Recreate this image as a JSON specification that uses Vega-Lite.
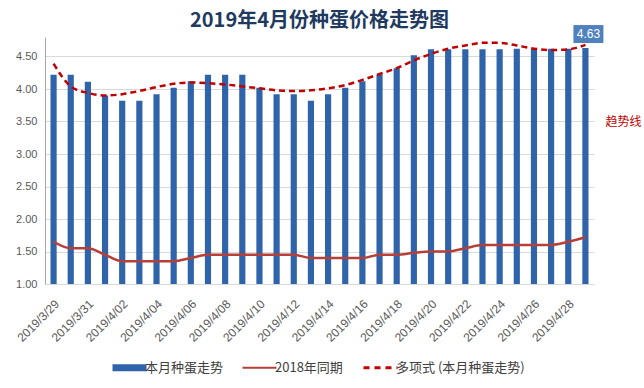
{
  "$schema": "https://vega.github.io/schema/vega-lite/v6.json",
  "width": 549,
  "height": 247,
  "autosize": "none",
  "padding": {"left": 45, "top": 37, "right": 50, "bottom": 104},
  "background": "white",
  "title": {
    "text": "2019年4月份种蛋价格走势图",
    "font": "Noto Sans CJK SC",
    "fontSize": 20,
    "fontWeight": "bold",
    "color": "#1f3a5f",
    "anchor": "middle",
    "offset": -6
  },
  "data": {
    "values": [
      {"date": "2019/3/29", "price": 4.22, "y2018": 1.65, "trend": 4.39},
      {"date": "2019/3/30", "price": 4.22, "y2018": 1.55, "trend": 4.04},
      {"date": "2019/3/31", "price": 4.11, "y2018": 1.55, "trend": 3.94},
      {"date": "2019/4/01", "price": 3.90, "y2018": 1.45, "trend": 3.90},
      {"date": "2019/4/02", "price": 3.82, "y2018": 1.35, "trend": 3.92},
      {"date": "2019/4/03", "price": 3.82, "y2018": 1.35, "trend": 3.97},
      {"date": "2019/4/04", "price": 3.92, "y2018": 1.35, "trend": 4.03},
      {"date": "2019/4/05", "price": 4.02, "y2018": 1.35, "trend": 4.08},
      {"date": "2019/4/06", "price": 4.12, "y2018": 1.40, "trend": 4.10},
      {"date": "2019/4/07", "price": 4.22, "y2018": 1.45, "trend": 4.09},
      {"date": "2019/4/08", "price": 4.22, "y2018": 1.45, "trend": 4.07},
      {"date": "2019/4/09", "price": 4.22, "y2018": 1.45, "trend": 4.04},
      {"date": "2019/4/10", "price": 4.02, "y2018": 1.45, "trend": 4.01},
      {"date": "2019/4/11", "price": 3.92, "y2018": 1.45, "trend": 3.98},
      {"date": "2019/4/12", "price": 3.92, "y2018": 1.45, "trend": 3.97},
      {"date": "2019/4/13", "price": 3.82, "y2018": 1.40, "trend": 3.98},
      {"date": "2019/4/14", "price": 3.92, "y2018": 1.40, "trend": 4.01},
      {"date": "2019/4/15", "price": 4.02, "y2018": 1.40, "trend": 4.06},
      {"date": "2019/4/16", "price": 4.12, "y2018": 1.40, "trend": 4.14},
      {"date": "2019/4/17", "price": 4.22, "y2018": 1.45, "trend": 4.23},
      {"date": "2019/4/18", "price": 4.32, "y2018": 1.45, "trend": 4.32},
      {"date": "2019/4/19", "price": 4.52, "y2018": 1.48, "trend": 4.44},
      {"date": "2019/4/20", "price": 4.61, "y2018": 1.50, "trend": 4.54},
      {"date": "2019/4/21", "price": 4.61, "y2018": 1.50, "trend": 4.62},
      {"date": "2019/4/22", "price": 4.61, "y2018": 1.55, "trend": 4.67},
      {"date": "2019/4/23", "price": 4.61, "y2018": 1.60, "trend": 4.71},
      {"date": "2019/4/24", "price": 4.61, "y2018": 1.60, "trend": 4.71},
      {"date": "2019/4/25", "price": 4.62, "y2018": 1.60, "trend": 4.67},
      {"date": "2019/4/26", "price": 4.62, "y2018": 1.60, "trend": 4.62},
      {"date": "2019/4/27", "price": 4.62, "y2018": 1.60, "trend": 4.60},
      {"date": "2019/4/28", "price": 4.62, "y2018": 1.65, "trend": 4.61},
      {"date": "2019/4/29", "price": 4.63, "y2018": 1.72, "trend": 4.68}
    ]
  },
  "encoding": {
    "x": {
      "field": "date",
      "type": "ordinal",
      "sort": null,
      "title": null,
      "scale": {"paddingInner": 0.64, "paddingOuter": 0.32},
      "axis": {
        "values": ["2019/3/29", "2019/3/31", "2019/4/02", "2019/4/04", "2019/4/06", "2019/4/08", "2019/4/10", "2019/4/12", "2019/4/14", "2019/4/16", "2019/4/18", "2019/4/20", "2019/4/22", "2019/4/24", "2019/4/26", "2019/4/28"],
        "labelAngle": -45,
        "labelFont": "Liberation Sans",
        "labelFontSize": 12,
        "labelColor": "#595959",
        "ticks": false,
        "domainColor": "#d9d9d9",
        "labelPadding": 14
      }
    }
  },
  "layer": [
    {
      "mark": {"type": "bar"},
      "encoding": {
        "y": {
          "field": "price",
          "type": "quantitative",
          "title": null,
          "scale": {"domain": [1, 4.8], "nice": false, "zero": false},
          "axis": {
            "values": [1, 1.5, 2, 2.5, 3, 3.5, 4, 4.5],
            "tickCount": 8,
            "format": ".2f",
            "labelFont": "Liberation Sans",
            "labelFontSize": 11,
            "labelColor": "#595959",
            "ticks": false,
            "domain": true,
            "domainColor": "#a6a6a6",
            "gridColor": "#d9d9d9",
            "labelPadding": 8,
            "labelOverlap": false
          }
        },
        "y2": {"datum": 1},
        "color": {
          "datum": "本月种蛋走势",
          "scale": {
            "domain": ["本月种蛋走势", "2018年同期", "多项式 (本月种蛋走势)"],
            "range": ["#2f64aa", "#b5403a", "#c00000"]
          },
          "legend": {
            "encode": {
              "symbols": {
                "update": {
                  "shape": {"signal": "datum.value === '本月种蛋走势' ? 'M-1,-0.2H1V0.2H-1Z' : 'M-1,0H1'"},
                  "fill": {"signal": "datum.value === '本月种蛋走势' ? '#2f64aa' : 'transparent'"},
                  "fillOpacity": {"value": 1},
                  "strokeWidth": {"signal": "datum.value === '本月种蛋走势' ? 0 : (datum.value === '2018年同期' ? 2 : 3)"},
                  "strokeDash": {"signal": "datum.value === '多项式 (本月种蛋走势)' ? [6, 5] : [1, 0]"}
                }
              }
            }
          }
        }
      }
    },
    {
      "mark": {"type": "line", "strokeWidth": 2.5, "interpolate": "monotone"},
      "encoding": {
        "y": {
          "field": "y2018",
          "type": "quantitative",
          "title": null,
          "axis": {
            "values": [1, 1.5, 2, 2.5, 3, 3.5, 4, 4.5],
            "tickCount": 8,
            "format": ".2f",
            "labelFont": "Liberation Sans",
            "labelFontSize": 11,
            "labelColor": "#595959",
            "ticks": false,
            "domain": true,
            "domainColor": "#a6a6a6",
            "gridColor": "#d9d9d9",
            "labelPadding": 8,
            "labelOverlap": false
          }
        },
        "color": {"datum": "2018年同期"}
      }
    },
    {
      "mark": {"type": "line", "strokeWidth": 2.5, "strokeDash": [6, 4], "interpolate": "monotone"},
      "encoding": {
        "y": {
          "field": "trend",
          "type": "quantitative",
          "title": null,
          "axis": {
            "values": [1, 1.5, 2, 2.5, 3, 3.5, 4, 4.5],
            "tickCount": 8,
            "format": ".2f",
            "labelFont": "Liberation Sans",
            "labelFontSize": 11,
            "labelColor": "#595959",
            "ticks": false,
            "domain": true,
            "domainColor": "#a6a6a6",
            "gridColor": "#d9d9d9",
            "labelPadding": 8,
            "labelOverlap": false
          }
        },
        "color": {"datum": "多项式 (本月种蛋走势)"}
      }
    },
    {
      "transform": [{"filter": "datum.date === '2019/4/29'"}],
      "mark": {"type": "point", "shape": "M-1,-0.6H1V0.6H-1Z", "size": 900, "filled": true, "opacity": 1, "color": "#4f81bd", "yOffset": -14, "xOffset": 3},
      "encoding": {
        "y": {
          "field": "price",
          "type": "quantitative",
          "title": null,
          "axis": {
            "values": [1, 1.5, 2, 2.5, 3, 3.5, 4, 4.5],
            "tickCount": 8,
            "format": ".2f",
            "labelFont": "Liberation Sans",
            "labelFontSize": 11,
            "labelColor": "#595959",
            "ticks": false,
            "domain": true,
            "domainColor": "#a6a6a6",
            "gridColor": "#d9d9d9",
            "labelPadding": 8,
            "labelOverlap": false
          }
        }
      }
    },
    {
      "transform": [{"filter": "datum.date === '2019/4/29'"}],
      "mark": {"type": "text", "color": "white", "font": "Liberation Sans", "fontSize": 12, "baseline": "middle", "align": "center", "yOffset": -14, "xOffset": 3},
      "encoding": {
        "y": {
          "field": "price",
          "type": "quantitative",
          "title": null,
          "axis": {
            "values": [1, 1.5, 2, 2.5, 3, 3.5, 4, 4.5],
            "tickCount": 8,
            "format": ".2f",
            "labelFont": "Liberation Sans",
            "labelFontSize": 11,
            "labelColor": "#595959",
            "ticks": false,
            "domain": true,
            "domainColor": "#a6a6a6",
            "gridColor": "#d9d9d9",
            "labelPadding": 8,
            "labelOverlap": false
          }
        },
        "text": {"field": "price", "type": "quantitative", "format": ".2f"}
      }
    },
    {
      "data": {"values": [{"label": "趋势线"}]},
      "mark": {"type": "text", "color": "#c00000", "font": "Noto Sans CJK SC", "fontSize": 12, "align": "center", "baseline": "middle", "dx": 38},
      "encoding": {
        "x": {"datum": "2019/4/29"},
        "y": {
          "datum": 3.5,
          "type": "quantitative",
          "title": null,
          "axis": {
            "values": [1, 1.5, 2, 2.5, 3, 3.5, 4, 4.5],
            "tickCount": 8,
            "format": ".2f",
            "labelFont": "Liberation Sans",
            "labelFontSize": 11,
            "labelColor": "#595959",
            "ticks": false,
            "domain": true,
            "domainColor": "#a6a6a6",
            "gridColor": "#d9d9d9",
            "labelPadding": 8,
            "labelOverlap": false
          }
        },
        "text": {"field": "label"}
      }
    }
  ],
  "config": {
    "view": {"stroke": null},
    "legend": {
      "orient": "none",
      "legendX": 78,
      "legendY": 324,
      "direction": "horizontal",
      "title": null,
      "labelFont": "Noto Sans CJK SC",
      "labelFontSize": 13,
      "labelColor": "#404040",
      "symbolSize": 1156,
      "labelOffset": 9,
      "columnPadding": 14
    }
  }
}
